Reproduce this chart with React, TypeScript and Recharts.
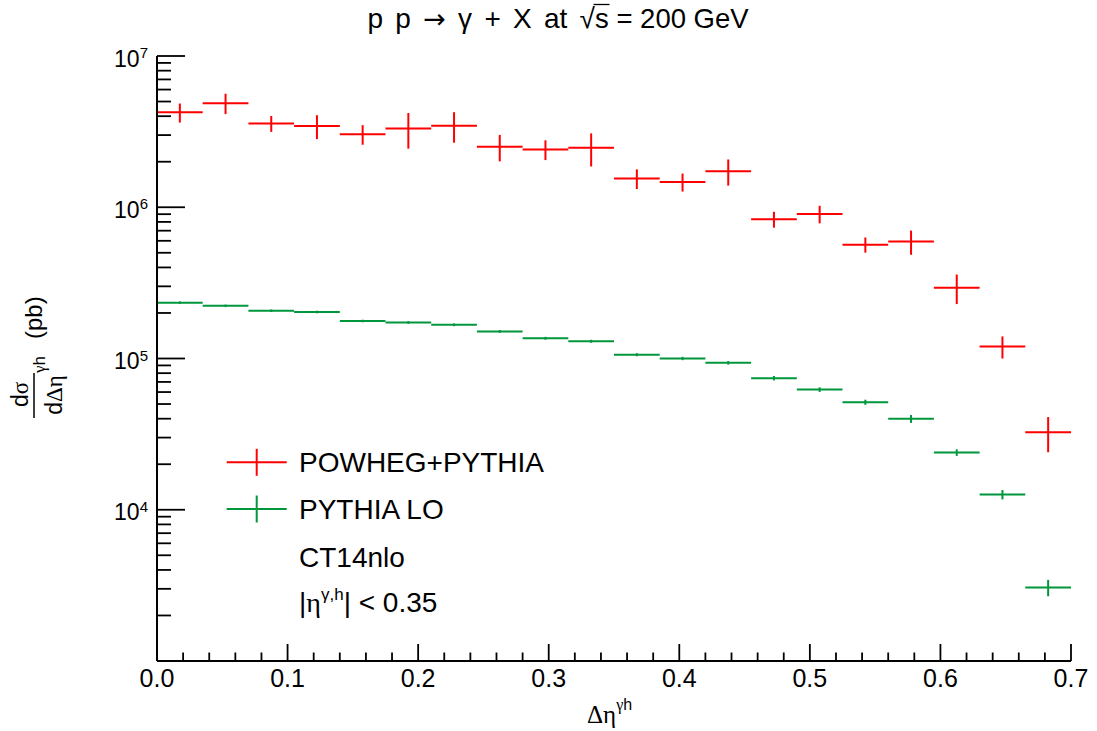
import { ScatterChart, Scatter, XAxis, YAxis, ErrorBar, Legend } from 'recharts';

const SANS = '"Liberation Sans", Arial, Helvetica, sans-serif';
const SERIF = '"Liberation Serif", "Times New Roman", serif';
const RED = '#ff0000';
const GREEN = '#00963c';

// bin centres of delta eta (bins 0.035 wide)
const etaCenters = [0.0175, 0.0525, 0.0875, 0.1225, 0.1575, 0.1925, 0.2275, 0.2625, 0.2975, 0.3325, 0.3675, 0.4025, 0.4375, 0.4725, 0.5075, 0.5425, 0.5775, 0.6125, 0.6475, 0.6825];
const binHalfWidth = 0.0175;

const powhegValues = [4.24e6, 4.88e6, 3.58e6, 3.44e6, 3.04e6, 3.32e6, 3.46e6, 2.51e6, 2.41e6, 2.47e6, 1.55e6, 1.47e6, 1.73e6, 8.33e5, 9.03e5, 5.66e5, 5.93e5, 2.94e5, 1.2e5, 3.25e4];
const powhegErrors = [6.1e5, 7.5e5, 4.3e5, 6.2e5, 4.5e5, 8.8e5, 7.9e5, 5.0e5, 3.6e5, 6.1e5, 2.3e5, 2.0e5, 3.4e5, 1.0e5, 1.2e5, 6.5e4, 1.08e5, 6.5e4, 2.0e4, 8.5e3];

const pythiaValues = [2.34e5, 2.23e5, 2.07e5, 2.03e5, 1.77e5, 1.73e5, 1.67e5, 1.51e5, 1.36e5, 1.3e5, 1.06e5, 1.0e5, 9.36e4, 7.41e4, 6.23e4, 5.14e4, 3.99e4, 2.39e4, 1.26e4, 3.06e3];
const pythiaErrors = [4.5e3, 4.3e3, 4.0e3, 4.0e3, 3.5e3, 3.5e3, 3.5e3, 3.2e3, 3.0e3, 3.0e3, 2.5e3, 2.5e3, 2.5e3, 2.5e3, 2.2e3, 2.0e3, 2.4e3, 1.2e3, 9.0e2, 3.8e2];

const seriesNames = ['POWHEG+PYTHIA', 'PYTHIA LO'];
const seriesColors = [RED, GREEN];

const xMajorTicks = [0, 0.1, 0.2, 0.3, 0.4, 0.5, 0.6, 0.7];
const xMinorTicks = [0.02, 0.04, 0.06, 0.08, 0.12, 0.14, 0.16, 0.18, 0.22, 0.24, 0.26, 0.28, 0.32, 0.34, 0.36, 0.38, 0.42, 0.44, 0.46, 0.48, 0.52, 0.54, 0.56, 0.58, 0.62, 0.64, 0.66, 0.68];
const yMajorTicks = [1e4, 1e5, 1e6, 1e7];
const yMinorTicks = [2e3, 3e3, 4e3, 5e3, 6e3, 7e3, 8e3, 9e3, 2e4, 3e4, 4e4, 5e4, 6e4, 7e4, 8e4, 9e4, 2e5, 3e5, 4e5, 5e5, 6e5, 7e5, 8e5, 9e5, 2e6, 3e6, 4e6, 5e6, 6e6, 7e6, 8e6, 9e6];

const xTicks = [...xMajorTicks, ...xMinorTicks];
const yTicks = [...yMajorTicks, ...yMinorTicks];

const powhegRows = etaCenters.map((x, i) => ({ x, y: powhegValues[i], xErr: binHalfWidth, yErr: powhegErrors[i] }));
const pythiaRows = etaCenters.map((x, i) => ({ x, y: pythiaValues[i], xErr: binHalfWidth, yErr: pythiaErrors[i] }));

// frame layout
const W = 1097;
const H = 731;
const MARGIN = { top: 56, right: 26, bottom: 30, left: 77 };
const Y_AXIS_W = 80;
const X_AXIS_H = 40;
const FRAME_LEFT = MARGIN.left + Y_AXIS_W;
const FRAME_RIGHT = W - MARGIN.right;
const FRAME_TOP = MARGIN.top;
const FRAME_BOTTOM = H - MARGIN.bottom - X_AXIS_H;

const TICK_W = 1.8;

const BottomTick = (props: any) => {
  const { x, payload } = props;
  const major = xMajorTicks.includes(payload.value);
  return (
    <g>
      <line x1={x} x2={x} y1={FRAME_BOTTOM} y2={FRAME_BOTTOM - (major ? 17 : 8.5)} stroke="#000" strokeWidth={TICK_W} />
      {major && (
        <text x={x} y={FRAME_BOTTOM + 26} textAnchor="middle" fontSize={25} fontFamily={SANS} fill="#000">
          {payload.value.toFixed(1)}
        </text>
      )}
    </g>
  );
};

const TopTick = (props: any) => {
  const { x, payload } = props;
  const major = xMajorTicks.includes(payload.value);
  return <line x1={x} x2={x} y1={FRAME_TOP} y2={FRAME_TOP + (major ? 17 : 8.5)} stroke="#000" strokeWidth={TICK_W} />;
};

const LeftTick = (props: any) => {
  const { y, payload } = props;
  const v = payload.value;
  const major = yMajorTicks.includes(v);
  return (
    <g>
      <line x1={FRAME_LEFT} x2={FRAME_LEFT + (major ? 28 : 14)} y1={y} y2={y} stroke="#000" strokeWidth={TICK_W} />
      {major && (
        <text x={FRAME_LEFT - 9} y={y + 10.5} textAnchor="end" fontSize={23} fontFamily={SANS} fill="#000">
          10<tspan dy={-8.5} fontSize={15}>{Math.round(Math.log10(v))}</tspan>
        </text>
      )}
    </g>
  );
};

const RightTick = (props: any) => {
  const { y, payload } = props;
  const major = yMajorTicks.includes(payload.value);
  return <line x1={FRAME_RIGHT} x2={FRAME_RIGHT - (major ? 28 : 14)} y1={y} y2={y} stroke="#000" strokeWidth={TICK_W} />;
};

const NoMarker = () => <g />;

const LegendBox = () => (
  <svg width={380} height={190} style={{ overflow: 'visible' }}>
    {seriesNames.map((name, i) => {
      const cy = 22.3 + i * 46.7;
      return (
        <g key={name}>
          <line x1={6.7} x2={66.7} y1={cy} y2={cy} stroke={seriesColors[i]} strokeWidth={2} />
          <line x1={36.7} x2={36.7} y1={cy - 13.5} y2={cy + 13.5} stroke={seriesColors[i]} strokeWidth={2} />
          <text x={79} y={cy + 10} fontSize={28} fontFamily={SANS} fill="#000">{name}</text>
        </g>
      );
    })}
    <text x={79} y={126.7} fontSize={28} fontFamily={SANS} fill="#000">CT14nlo</text>
    <text x={79} y={171.7} fontSize={28} fontFamily={SANS} fill="#000">
      |<tspan fontFamily={SERIF}>η</tspan>
      <tspan dy={-12} fontSize={17}>γ,h</tspan>
      <tspan dy={12}>| &lt; 0.35</tspan>
    </text>
  </svg>
);

// split point of the title, just after the root sign
const ROOT_X = 595;

export default function App() {
  return (
    <div style={{ position: 'absolute', left: 0, top: 0, width: W, height: H, background: '#fff' }}>
      <ScatterChart width={W} height={H} margin={MARGIN}>
        <XAxis
          dataKey="x"
          type="number"
          domain={[0, 0.7]}
          allowDataOverflow
          ticks={xTicks}
          interval={0}
          height={X_AXIS_H}
          tickSize={0}
          tickMargin={0}
          tickLine={false}
          tick={<BottomTick />}
          axisLine={{ stroke: '#000', strokeWidth: 2 }}
        />
        <XAxis
          xAxisId="top"
          orientation="top"
          type="number"
          domain={[0, 0.7]}
          allowDataOverflow
          ticks={xTicks}
          interval={0}
          height={0}
          tickSize={0}
          tickMargin={0}
          tickLine={false}
          tick={<TopTick />}
          axisLine={{ stroke: '#000', strokeWidth: 2 }}
        />
        <YAxis
          dataKey="y"
          type="number"
          scale="log"
          domain={[1000, 1e7]}
          allowDataOverflow
          ticks={yTicks}
          interval={0}
          width={Y_AXIS_W}
          tickSize={0}
          tickMargin={0}
          tickLine={false}
          tick={<LeftTick />}
          axisLine={{ stroke: '#000', strokeWidth: 2 }}
        />
        <YAxis
          yAxisId="right"
          orientation="right"
          type="number"
          scale="log"
          domain={[1000, 1e7]}
          allowDataOverflow
          ticks={yTicks}
          interval={0}
          width={0}
          tickSize={0}
          tickMargin={0}
          tickLine={false}
          tick={<RightTick />}
          axisLine={{ stroke: '#000', strokeWidth: 2 }}
        />
        <Scatter name={seriesNames[0]} data={powhegRows} fill={RED} shape={NoMarker} isAnimationActive={false}>
          <ErrorBar dataKey="xErr" direction="x" width={0} stroke={RED} strokeWidth={2} isAnimationActive={false} />
          <ErrorBar dataKey="yErr" direction="y" width={0} stroke={RED} strokeWidth={2} isAnimationActive={false} />
        </Scatter>
        <Scatter name={seriesNames[1]} data={pythiaRows} fill={GREEN} shape={NoMarker} isAnimationActive={false}>
          <ErrorBar dataKey="xErr" direction="x" width={0} stroke={GREEN} strokeWidth={2} isAnimationActive={false} />
          <ErrorBar dataKey="yErr" direction="y" width={0} stroke={GREEN} strokeWidth={2} isAnimationActive={false} />
        </Scatter>
        <Legend
          layout="vertical"
          align="center"
          verticalAlign="middle"
          content={<LegendBox />}
          wrapperStyle={{ left: 220, top: 440, width: 380, height: 190 }}
        />
      </ScatterChart>
      <svg width={W} height={H} style={{ position: 'absolute', left: 0, top: 0, pointerEvents: 'none' }}>
        <text x={ROOT_X} y={28} textAnchor="end" fontSize={28} fontFamily={SANS} fill="#000" wordSpacing={4.5}>
          p p <tspan fontFamily='"DejaVu Sans", sans-serif' fontSize={27}>→</tspan> γ + X at √
        </text>
        <text x={ROOT_X} y={28} fontSize={27.5} fontFamily={SANS} fill="#000">s = 200 GeV</text>
        <line x1={ROOT_X - 1.5} x2={ROOT_X + 14.5} y1={4.5} y2={4.5} stroke="#000" strokeWidth={1.3} />
        <text x={587} y={723} fontSize={25} fontFamily={SERIF} fill="#000">
          Δη<tspan dy={-13} fontSize={16}>γ</tspan><tspan fontFamily={SANS} fontSize={16}>h</tspan>
        </text>
        <g transform="translate(35,358) rotate(-90)" fontFamily={SANS} fill="#000">
          <text x={-36.5} y={-7} textAnchor="middle" fontSize={23}>d<tspan fontFamily={SERIF}>σ</tspan></text>
          <line x1={-60} x2={-15} y1={-1} y2={-1} stroke="#000" strokeWidth={1.5} />
          <text x={-37} y={27} textAnchor="middle" fontSize={23}>d<tspan fontFamily={SERIF}>Δη</tspan></text>
          <text x={-15} y={10} fontSize={17}><tspan fontFamily={SERIF}>γ</tspan>h</text>
          <text x={19} y={7} fontSize={24}>(pb)</text>
        </g>
      </svg>
    </div>
  );
}
